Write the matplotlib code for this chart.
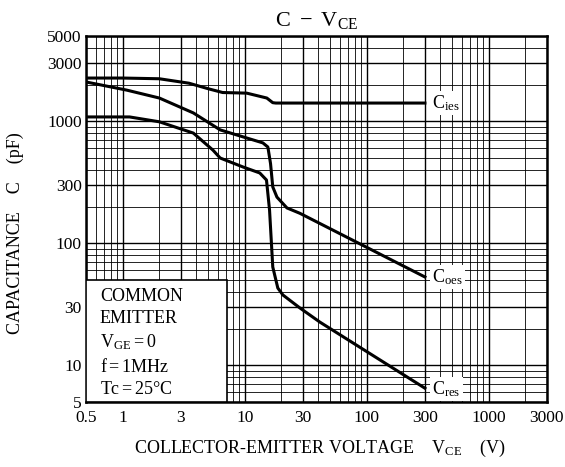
import matplotlib
matplotlib.use("Agg")
import matplotlib.pyplot as plt
from matplotlib.patches import Rectangle
from matplotlib.ticker import LogLocator, NullFormatter

plt.rcParams['font.family'] = ['Liberation Serif', 'DejaVu Serif']
plt.rcParams['mathtext.fontset'] = 'custom'
plt.rcParams['mathtext.rm'] = 'Liberation Serif'
plt.rcParams['mathtext.it'] = 'Liberation Serif'

# curves (V, pF)
cies_v = [0.5, 1.0, 2.0, 3.5, 5.0, 6.6, 10.4, 15.2, 17.0, 18.0, 300]
cies_c = [2260, 2260, 2230, 2050, 1850, 1720, 1700, 1550, 1420, 1410, 1410]

coes_v = [0.5, 1.08, 2.0, 3.8, 6.3, 9.7, 14.1, 15.5, 16.3, 17.0, 18.4, 22.2, 28.4, 300]
coes_c = [2100, 1800, 1550, 1170, 850, 745, 665, 615, 450, 290, 239, 195, 176, 53]

cres_v = [0.5, 1.14, 2.0, 3.8, 5.5, 6.3, 9.7, 13.3, 15.1, 16.0, 17.0, 18.7, 20.6, 28.4, 41.4, 300]
cres_c = [1085, 1085, 990, 800, 580, 500, 422, 377, 330, 187, 64, 43, 37.7, 29.5, 22.6, 6.5]

xticks = [0.5, 1, 3, 10, 30, 100, 300, 1000, 3000]
yticks = [5, 10, 30, 100, 300, 1000, 3000, 5000]

fig = plt.figure(figsize=(5.65, 4.67), dpi=100)
ax = fig.add_axes([0.152, 0.139, 0.816, 0.784])

ax.set_xscale('log')
ax.set_yscale('log')
ax.set_xlim(0.5, 3000)
ax.set_ylim(5, 5000)

ax.set_xticks(xticks)
ax.set_xticklabels([str(t) for t in xticks])
ax.set_yticks(yticks)
ax.set_yticklabels([str(t) for t in yticks])
ax.xaxis.set_minor_locator(LogLocator(subs=range(2, 10)))
ax.yaxis.set_minor_locator(LogLocator(subs=range(2, 10)))
ax.xaxis.set_minor_formatter(NullFormatter())
ax.yaxis.set_minor_formatter(NullFormatter())
ax.tick_params(axis='both', which='both', length=0, labelsize=12.5)
ax.tick_params(axis='x', pad=6)
ax.tick_params(axis='y', pad=3)

ax.grid(True, which='major', color='black', linewidth=1.0)
ax.grid(True, which='minor', color='black', linewidth=0.6)

ax.plot(cies_v, cies_c, color='black', linewidth=2.2, zorder=3)
ax.plot(coes_v, coes_c, color='black', linewidth=2.2, zorder=3)
ax.plot(cres_v, cres_c, color='black', linewidth=2.2, zorder=3)

for s in ax.spines.values():
    s.set_linewidth(1.8)

# condition box
ax.add_patch(Rectangle((0.5, 5), 7.16 - 0.5, 50 - 5, facecolor='white',
                       edgecolor='black', linewidth=1.2, zorder=4))
ax.text(0.65, 43, 'COMMON\nEMITTER\n$\\mathrm{V_{GE}}$$=$0\nf$=$1MHz\nTc$=$25°C',
        fontsize=13, linespacing=1.38, va='top', ha='left', zorder=5)

lbl = dict(fontsize=13, ha='left', va='center', zorder=5,
           bbox=dict(facecolor='white', edgecolor='none', pad=1.5))
ax.text(345, 1410, '$\\mathrm{C_{ies}}$', **lbl)
ax.text(345, 53, '$\\mathrm{C_{oes}}$', **lbl)
ax.text(345, 6.4, '$\\mathrm{C_{res}}$', **lbl)

fig.text(0.56, 0.957, '$\\mathrm{C\\ -\\ V_{CE}}$', fontsize=16, ha='center', va='center')
fig.text(0.028, 0.5, 'CAPACITANCE    C    (pF)', fontsize=13, rotation=90,
         ha='center', va='center')
fig.text(0.566, 0.04, 'COLLECTOR-EMITTER VOLTAGE    $\\mathrm{V_{CE}}$    (V)',
         fontsize=13, ha='center', va='center')

fig.savefig('out.png', dpi=100)
